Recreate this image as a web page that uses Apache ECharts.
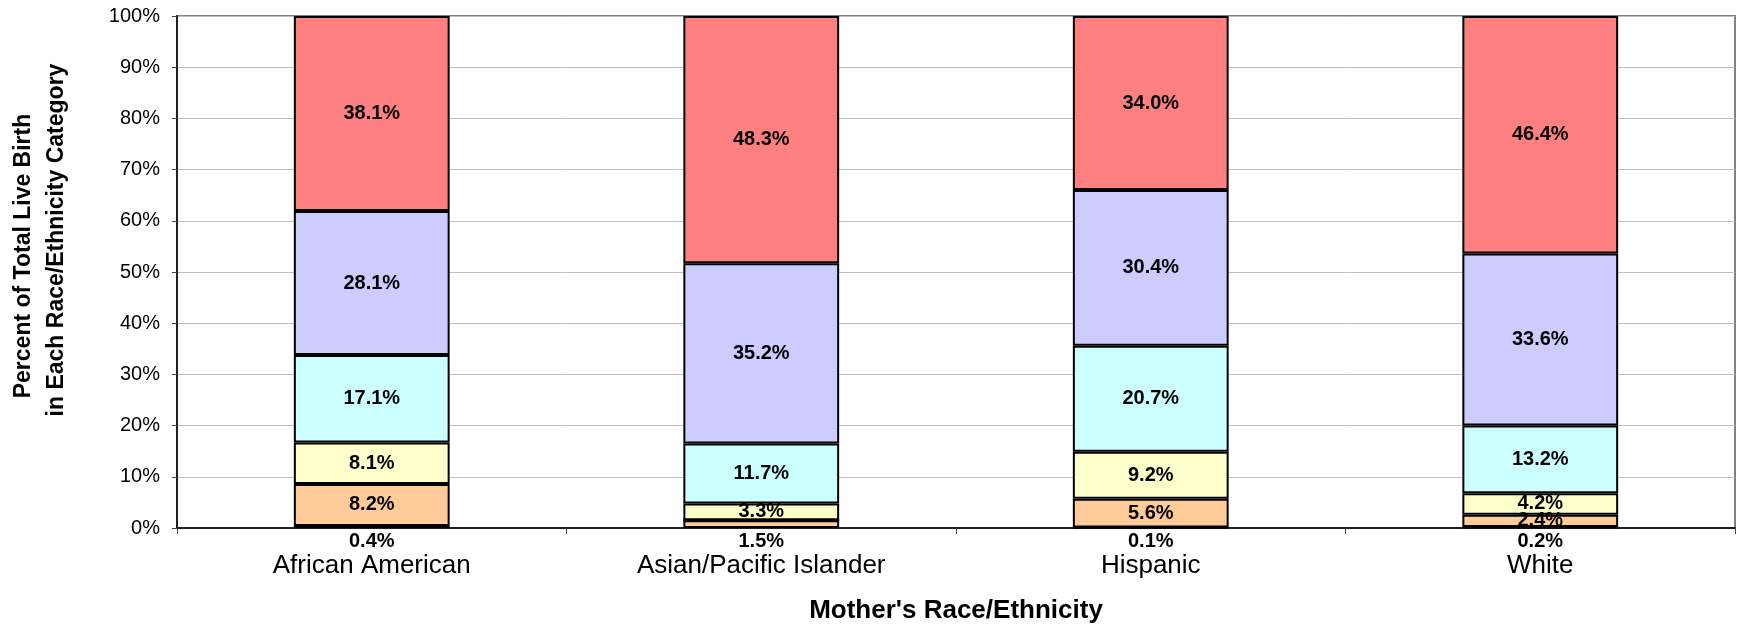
<!DOCTYPE html>
<html>
<head>
<meta charset="utf-8">
<script src="https://cdn.jsdelivr.net/npm/echarts@6/dist/echarts.min.js"></script>
<style>
  html, body { margin: 0; padding: 0; background: #fff; }
  #main { width: 1737px; height: 626px; }
</style>
</head>
<body>
<div id="main"></div>
<script>
// categories and stacked values, bottom to top
var races = ['African American', 'Asian/Pacific Islander', 'Hispanic', 'White'];
var seg1 = [0.4, 1.5, 0.1, 0.2];
var seg2 = [8.2, 0, 5.6, 2.4];
var seg3 = [8.1, 3.3, 9.2, 4.2];
var seg4 = [17.1, 11.7, 20.7, 13.2];
var seg5 = [28.1, 35.2, 30.4, 33.6];
var seg6 = [38.1, 48.3, 34.0, 46.4];
var segColors = ['#FFCC99', '#FFCC99', '#FFFFCC', '#CCFFFF', '#CCCCFF', '#FF8080'];

var FONT = 'Liberation Sans, Arial, sans-serif';

var chart = echarts.init(document.getElementById('main'), null, { renderer: 'canvas' });

function pct(p) {
  return p.value ? p.value.toFixed(1) + '%' : '';
}

var series = [seg1, seg2, seg3, seg4, seg5, seg6].map(function (vals, i) {
  return {
    type: 'bar',
    stack: 'all',
    barWidth: '40%',
    data: vals,
    itemStyle: { color: segColors[i], borderColor: '#000', borderWidth: 2 },
    label: {
      show: true,
      position: i === 0 ? 'bottom' : 'inside',
      distance: 3,
      formatter: pct,
      color: '#000',
      fontFamily: FONT,
      fontWeight: 'bold',
      fontSize: 20
    },
    emphasis: { disabled: true },
    animation: false
  };
});

var option = {
  animation: false,
  grid: {
    left: 177, right: 2, top: 16, bottom: 98,
    outerBoundsMode: 'none',
    containLabel: false,
    show: true, borderColor: '#808080', borderWidth: 2
  },
  xAxis: {
    type: 'category',
    data: races,
    name: "Mother's Race/Ethnicity",
    nameLocation: 'middle',
    nameGap: 70,
    nameTextStyle: { fontFamily: FONT, fontWeight: 'bold', fontSize: 26, color: '#000' },
    axisLine: { lineStyle: { color: '#202020', width: 2 } },
    axisTick: { show: true, length: 6, lineStyle: { color: '#404040' } },
    axisLabel: { margin: 25, fontFamily: FONT, fontSize: 26, color: '#000' }
  },
  yAxis: {
    type: 'value',
    min: 0, max: 100, interval: 10,
    axisLine: { show: true, lineStyle: { color: '#202020', width: 2 } },
    axisTick: { show: true, length: 5, lineStyle: { color: '#404040' } },
    axisLabel: { formatter: '{value}%', margin: 17, fontFamily: FONT, fontSize: 20, color: '#000' },
    splitLine: { lineStyle: { color: '#C0C0C0', width: 1 } }
  },
  graphic: [
    {
      type: 'text', x: 24, y: 256, rotation: Math.PI / 2,
      style: {
        text: 'Percent of Total Live Birth', font: 'bold 23px ' + FONT,
        fill: '#000', align: 'center', verticalAlign: 'middle'
      }
    },
    {
      type: 'text', x: 57, y: 240, rotation: Math.PI / 2,
      style: {
        text: 'in Each Race/Ethnicity Category', font: 'bold 23px ' + FONT,
        fill: '#000', align: 'center', verticalAlign: 'middle'
      }
    }
  ],
  series: series
};

chart.setOption(option);
</script>
</body>
</html>
